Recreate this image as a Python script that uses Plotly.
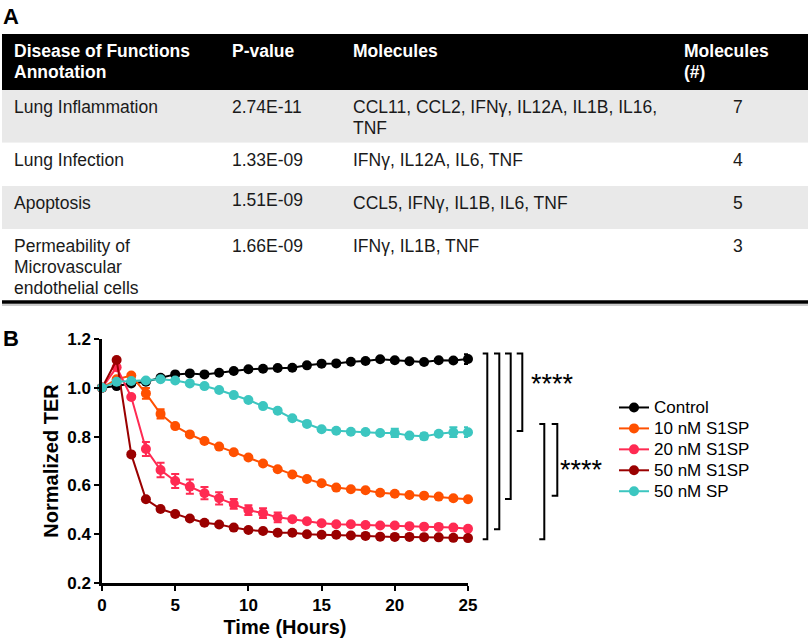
import plotly.graph_objects as go

# ---------------- data ----------------
hours = list(range(26))
control = [1.0, 1.007, 1.018, 1.025, 1.041, 1.055, 1.059, 1.055, 1.062, 1.069, 1.076, 1.078, 1.081,
           1.082, 1.092, 1.099, 1.100, 1.107, 1.110, 1.117, 1.113, 1.109, 1.106, 1.113, 1.112, 1.118]
s1sp_10 = [1.0, 1.035, 1.050, 0.977, 0.893, 0.843, 0.809, 0.782, 0.759, 0.736, 0.714, 0.690, 0.666,
           0.645, 0.626, 0.609, 0.591, 0.584, 0.580, 0.570, 0.566, 0.561, 0.558, 0.554, 0.547, 0.543]
s1sp_20 = [1.0, 1.084, 0.962, 0.749, 0.663, 0.618, 0.595, 0.568, 0.547, 0.524, 0.499, 0.486, 0.469,
           0.461, 0.453, 0.445, 0.441, 0.441, 0.438, 0.436, 0.436, 0.433, 0.431, 0.430, 0.427, 0.422]
s1sp_50 = [1.0, 1.114, 0.727, 0.543, 0.503, 0.483, 0.464, 0.447, 0.440, 0.427, 0.417, 0.413, 0.406,
           0.406, 0.400, 0.398, 0.398, 0.395, 0.393, 0.390, 0.389, 0.389, 0.388, 0.387, 0.385, 0.384]
sp_50 = [1.0, 1.025, 1.028, 1.030, 1.035, 1.030, 1.018, 1.007, 0.991, 0.970, 0.950, 0.925, 0.906,
         0.875, 0.852, 0.830, 0.824, 0.820, 0.819, 0.815, 0.815, 0.804, 0.801, 0.812, 0.818, 0.818]

err_control = [0.005] * 25 + [0.02]
err_10 = [0.005, 0.005, 0.005, 0.022, 0.019] + [0.005] * 21
err_20 = [0.005, 0.005, 0.005, 0.029, 0.030, 0.029, 0.029, 0.025, 0.025, 0.020, 0.020, 0.020, 0.020] + [0.006] * 13
err_50 = [0.005] * 26
err_sp = [0.005] * 20 + [0.017, 0.005, 0.012, 0.005, 0.020, 0.020]

series_names = ["Control", "10 nM S1SP", "20 nM S1SP", "50 nM S1SP", "50 nM SP"]
series_values = [control, s1sp_10, s1sp_20, s1sp_50, sp_50]
series_errors = [err_control, err_10, err_20, err_50, err_sp]
series_colors = ["#000000", "#FF5000", "#FF2A52", "#9A0000", "#3CC6C0"]

x_ticks = [0, 5, 10, 15, 20, 25]
y_ticks = [0.2, 0.4, 0.6, 0.8, 1.0, 1.2]

table_header = ["Disease of Functions\nAnnotation", "P-value", "Molecules", "Molecules\n(#)"]
table_annotation = ["Lung Inflammation", "Lung Infection", "Apoptosis",
                    "Permeability of\nMicrovascular\nendothelial cells"]
table_pvalue = ["2.74E-11", "1.33E-09", "1.51E-09", "1.66E-09"]
table_molecules = ["CCL11, CCL2, IFNγ, IL12A, IL1B, IL16,\nTNF", "IFNγ, IL12A, IL6, TNF",
                   "CCL5, IFNγ, IL1B, IL6, TNF", "IFNγ, IL1B, TNF"]
table_count = [7, 4, 5, 3]

# ---------------- geometry helpers ----------------
W, H = 810, 644
ML, MR, MT, MB = 102, 342, 339, 61
PW, PH = W - ML - MR, H - MT - MB
FONT = "Liberation Sans, Arial, sans-serif"


def px_x(px):
    return (px - ML) / PW


def px_y(py):
    return (H - MB - py) / PH


fig = go.Figure()

for name, vals, errs, col in zip(series_names, series_values, series_errors, series_colors):
    fig.add_trace(go.Scatter(
        x=hours, y=vals, name='<span style="font-size:17px">%s</span>' % name,
        mode="lines+markers",
        line=dict(color=col, width=2),
        marker=dict(color=col, size=10),
        error_y=dict(type="data", array=errs, visible=True, color=col, thickness=2, width=4),
        cliponaxis=False,
    ))

shapes = []
annotations = []

# ---------------- table (panel A) ----------------
tx0, tx1 = 2, 808
row_tops = [34, 90, 142.7, 186, 229, 300]
row_fills = ["#000000", "#E9E9E9", "#FFFFFF", "#E9E9E9", "#FFFFFF"]
for i, fill in enumerate(row_fills):
    shapes.append(dict(type="rect", xref="paper", yref="paper",
                       x0=px_x(tx0), x1=px_x(tx1), y0=px_y(row_tops[i + 1]), y1=px_y(row_tops[i]),
                       fillcolor=fill, line=dict(width=0), layer="below"))
shapes.append(dict(type="line", xref="paper", yref="paper", x0=px_x(tx0), x1=px_x(tx1),
                   y0=px_y(302), y1=px_y(302), line=dict(color="#000000", width=3.5)))
shapes.append(dict(type="line", xref="paper", yref="paper", x0=px_x(tx0), x1=px_x(tx1),
                   y0=px_y(305), y1=px_y(305), line=dict(color="#9A9A9A", width=1.2)))

col_x = [12, 230, 351, 682]
count_cx = 738
LINE = 21
FIRST = 17


def cell_text(text, x, top, color, bold=False, anchor="left", dy=0):
    for j, line in enumerate(str(text).split("\n")):
        t = "<b>%s</b>" % line if bold else line
        annotations.append(dict(xref="paper", yref="paper", x=px_x(x), y=px_y(top + FIRST + j * LINE + dy),
                                text=t, showarrow=False, xanchor=anchor, yanchor="middle",
                                font=dict(family=FONT, size=17.5, color=color)))


for c, h in enumerate(table_header):
    cell_text(h, col_x[c], row_tops[0], "#FFFFFF", bold=True)
for r in range(4):
    top = row_tops[r + 1]
    cell_text(table_annotation[r], col_x[0], top, "#1A1A1A")
    cell_text(table_pvalue[r], col_x[1], top, "#1A1A1A", dy=(-3 if r == 2 else 0))
    cell_text(table_molecules[r], col_x[2], top, "#1A1A1A")
    cell_text(table_count[r], count_cx, top, "#1A1A1A", anchor="center")

# panel letters
annotations.append(dict(xref="paper", yref="paper", x=px_x(1), y=px_y(16), text="<b>A</b>",
                        showarrow=False, xanchor="left", yanchor="middle",
                        font=dict(family=FONT, size=22, color="#000000")))
annotations.append(dict(xref="paper", yref="paper", x=px_x(1), y=px_y(338), text="<b>B</b>",
                        showarrow=False, xanchor="left", yanchor="middle",
                        font=dict(family=FONT, size=22, color="#000000")))

# ---------------- significance brackets ----------------
top1 = control[-1] + 0.023
top2 = sp_50[-1] + 0.034
brackets = [
    (482.7, 487.3, top1, s1sp_50[-1] - 0.005),
    (494.0, 499.3, top1, s1sp_20[-1] - 0.002),
    (505.0, 510.7, top1, s1sp_10[-1] + 0.001),
    (516.7, 522.3, top1, sp_50[-1] + 0.005),
    (539.3, 544.3, top2, s1sp_50[-1] - 0.005),
    (551.7, 557.3, top2, s1sp_10[-1] + 0.015),
]
for xt, xv, yt, yb in brackets:
    a, b = px_x(xt), px_x(xv)
    shapes.append(dict(type="path", xref="paper", yref="y",
                       path=f"M {a},{yt} L {b},{yt} L {b},{yb} L {a},{yb}",
                       line=dict(color="#000000", width=2)))

for sx, sy in [(552, 1.035), (581.7, 0.684)]:
    annotations.append(dict(xref="paper", yref="y", x=px_x(sx), y=sy, text="****",
                            showarrow=False, xanchor="center", yanchor="middle", yshift=-5,
                            font=dict(family=FONT, size=27, color="#000000")))

fig.update_layout(
    width=W, height=H, autosize=False,
    margin=dict(l=ML, r=MR, t=MT, b=MB, pad=0),
    paper_bgcolor="#FFFFFF", plot_bgcolor="#FFFFFF",
    font=dict(family=FONT, color="#000000"),
    shapes=shapes, annotations=annotations,
    showlegend=True,
    legend=dict(x=px_x(614), y=px_y(392), xanchor="left", yanchor="top",
                font=dict(family=FONT, size=13.8, color="#000000"),
                bgcolor="rgba(0,0,0,0)", tracegroupgap=0, itemclick=False),
    xaxis=dict(range=[0, 25], tickvals=x_ticks, showgrid=False, zeroline=False,
               showline=True, linecolor="#000000", linewidth=2.5,
               ticks="outside", ticklen=5, tickwidth=2, tickcolor="#000000",
               tickfont=dict(family=FONT, size=17, color="#000000", weight="bold"),
               title=dict(text="<b>Time (Hours)</b>", standoff=6,
                          font=dict(family=FONT, size=20, color="#000000")),
               automargin=False),
    yaxis=dict(range=[0.2, 1.2], tickvals=y_ticks, ticktext=[f"{v:.1f}" for v in y_ticks],
               showgrid=False, zeroline=False,
               showline=True, linecolor="#000000", linewidth=2.5,
               ticks="outside", ticklen=5, tickwidth=2, tickcolor="#000000",
               tickfont=dict(family=FONT, size=17, color="#000000", weight="bold"),
               title=dict(text="<b>Normalized TER</b>", standoff=4,
                          font=dict(family=FONT, size=20, color="#000000")),
               automargin=False),
)

fig.write_html("out.html", config={"displayModeBar": False},
               post_script="document.body.style.margin='0';document.body.style.overflow='hidden';")
